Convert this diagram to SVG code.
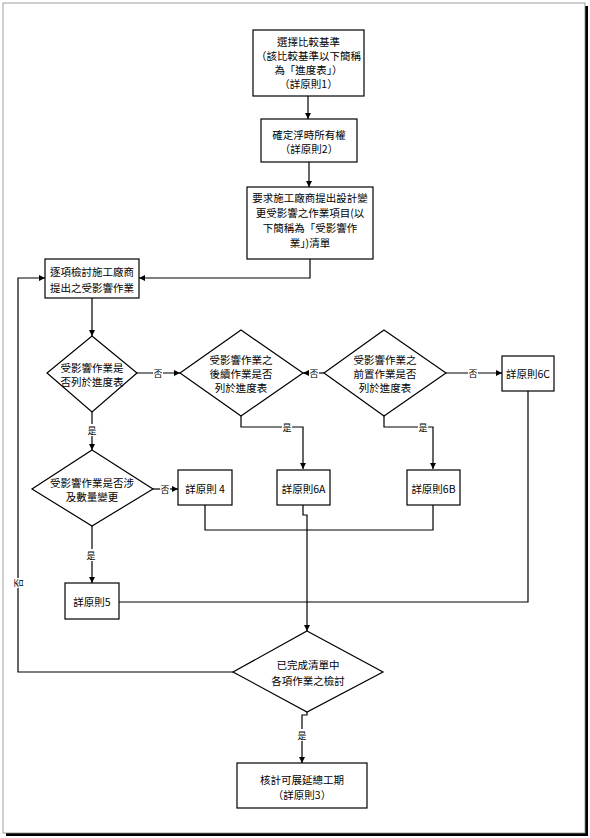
<svg xmlns="http://www.w3.org/2000/svg" width="590" height="838" viewBox="0 0 590 838">
<defs>
<marker id="arr" markerWidth="8" markerHeight="8" refX="6" refY="3" orient="auto" markerUnits="userSpaceOnUse">
<path d="M0,0 L6,3 L0,6 Z" fill="#000"/>
</marker>
<style>
.n{fill:#fff;stroke:#000;stroke-width:1.2}
.t{font-family:"Noto Sans CJK TC","Liberation Serif",serif;font-size:10.5px;fill:#000;text-anchor:middle;dominant-baseline:central}
.c{fill:none;stroke:#000;stroke-width:1.2}
.l{font-family:"Noto Sans CJK TC","Liberation Serif",serif;font-size:9px;fill:#000;text-anchor:middle;dominant-baseline:central}
.lb{fill:#fff}
</style>
</defs>
<rect x="0" y="0" width="590" height="838" fill="#fff"/>
<g id="frame">
<rect x="6" y="6" width="582" height="830" fill="#000"/>
<rect x="3" y="3" width="582" height="830" fill="#fff" stroke="#888" stroke-width="0.8"/>
</g>
<g id="connectors">
<path class="c" d="M308,96 V119" marker-end="url(#arr)"/>
<path class="c" d="M309,162 V187" marker-end="url(#arr)"/>
<path class="c" d="M310,259 V278 H139" marker-end="url(#arr)"/>
<path class="c" d="M92,298 V336" marker-end="url(#arr)"/>
<path class="c" d="M137,373 H180" marker-end="url(#arr)"/>
<path class="c" d="M324,373 H303" marker-end="url(#arr)"/>
<path class="c" d="M446,373 H502" marker-end="url(#arr)"/>
<path class="c" d="M92,412 V450" marker-end="url(#arr)"/>
<path class="c" d="M241,416 V427 H303 V469" marker-end="url(#arr)"/>
<path class="c" d="M384,416 V427 H433 V469" marker-end="url(#arr)"/>
<path class="c" d="M153,489 H178" marker-end="url(#arr)"/>
<path class="c" d="M92,526 V583" marker-end="url(#arr)"/>
<path class="c" d="M205,505 V530 H433 V505"/>
<path class="c" d="M303,505 V515 H307 V631" marker-end="url(#arr)"/>
<path class="c" d="M528,391 V602 H119"/>
<path class="c" d="M307,712 V715 H302 V763" marker-end="url(#arr)"/>
<path class="c" d="M233,672 H18 V278 H45" marker-end="url(#arr)"/>
<rect class="lb" x="153" y="367" width="10" height="12"/><text class="l" x="158" y="373">否</text>
<rect class="lb" x="309" y="367" width="10" height="12"/><text class="l" x="314" y="373">否</text>
<rect class="lb" x="468" y="367" width="10" height="12"/><text class="l" x="473" y="373">否</text>
<rect class="lb" x="87" y="424" width="10" height="12"/><text class="l" x="92" y="430">是</text>
<rect class="lb" x="282" y="421" width="10" height="12"/><text class="l" x="287" y="427">是</text>
<rect class="lb" x="418" y="421" width="10" height="12"/><text class="l" x="423" y="427">是</text>
<rect class="lb" x="160" y="483" width="10" height="12"/><text class="l" x="165" y="489">否</text>
<rect class="lb" x="86" y="549" width="10" height="12"/><text class="l" x="91" y="555">是</text>
<rect class="lb" x="297" y="729" width="10" height="12"/><text class="l" x="302" y="735">是</text>
<rect class="lb" x="12" y="578" width="12" height="10"/><text class="l" x="18" y="583" transform="rotate(-90 18 583)">否</text>
</g>
<g id="n1"><rect class="n" x="253" y="30" width="111" height="66"/>
<text class="t" x="308.5" y="41">選擇比較基準</text>
<text class="t" x="308.5" y="55">（該比較基準以下簡稱</text>
<text class="t" x="308.5" y="69">為「進度表」）</text>
<text class="t" x="308.5" y="83">（詳原則1）</text></g>
<g id="n2"><rect class="n" x="261" y="119" width="96" height="43"/>
<text class="t" x="309" y="134">確定浮時所有權</text>
<text class="t" x="309" y="148">（詳原則2）</text></g>
<g id="n3"><rect class="n" x="247" y="187" width="126" height="72"/>
<text class="t" x="310" y="197">要求施工廠商提出設計變</text>
<text class="t" x="310" y="212">更受影響之作業項目(以</text>
<text class="t" x="310" y="227">下簡稱為「受影響作</text>
<text class="t" x="310" y="242">業」)清單</text></g>
<g id="n4"><rect class="n" x="45" y="259" width="94" height="39"/>
<text class="t" x="92" y="271">逐項檢討施工廠商</text>
<text class="t" x="92" y="287">提出之受影響作業</text></g>
<g id="d1"><polygon class="n" points="92,336 137,373 92,412 47,373"/>
<text class="t" x="92" y="367">受影響作業是</text>
<text class="t" x="92" y="381">否列於進度表</text></g>
<g id="d2"><polygon class="n" points="241,330 303,373 241,416 180,373"/>
<text class="t" x="241" y="359">受影響作業之</text>
<text class="t" x="241" y="373">後續作業是否</text>
<text class="t" x="241" y="387">列於進度表</text></g>
<g id="d3"><polygon class="n" points="384,330 446,373 384,416 324,373"/>
<text class="t" x="385" y="359">受影響作業之</text>
<text class="t" x="385" y="373">前置作業是否</text>
<text class="t" x="385" y="387">列於進度表</text></g>
<g id="n6c"><rect class="n" x="502" y="356" width="52" height="35"/>
<text class="t" x="528" y="373">詳原則6C</text></g>
<g id="d4"><polygon class="n" points="92,450 153,489 92,526 32,489"/>
<text class="t" x="92" y="482">受影響作業是否涉</text>
<text class="t" x="92" y="496">及數量變更</text></g>
<g id="n_4"><rect class="n" x="178" y="470" width="54" height="35"/>
<text class="t" x="205" y="488">詳原則 4</text></g>
<g id="n6a"><rect class="n" x="277" y="470" width="53" height="35"/>
<text class="t" x="303.5" y="488">詳原則6A</text></g>
<g id="n6b"><rect class="n" x="407" y="470" width="53" height="35"/>
<text class="t" x="433.5" y="488">詳原則6B</text></g>
<g id="n5"><rect class="n" x="65" y="583" width="54" height="36"/>
<text class="t" x="92" y="601">詳原則5</text></g>
<g id="d5"><polygon class="n" points="307,631 383,672 307,712 233,672"/>
<text class="t" x="308" y="664">已完成清單中</text>
<text class="t" x="308" y="680">各項作業之檢討</text></g>
<g id="n3f"><rect class="n" x="237" y="763" width="130" height="45"/>
<text class="t" x="302" y="779">核計可展延總工期</text>
<text class="t" x="302" y="794">（詳原則3）</text></g>
</svg>
